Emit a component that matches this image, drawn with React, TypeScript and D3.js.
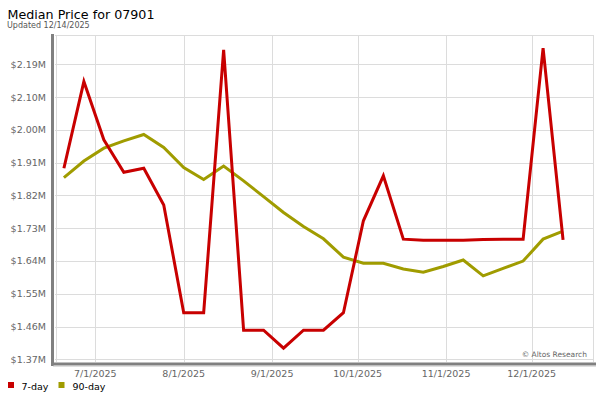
import React from "react";
import * as d3 from "d3";

const dates = [
  "2025-06-20", "2025-06-27", "2025-07-04", "2025-07-11", "2025-07-18", "2025-07-25",
  "2025-08-01", "2025-08-08", "2025-08-15", "2025-08-22", "2025-08-29", "2025-09-05",
  "2025-09-12", "2025-09-19", "2025-09-26", "2025-10-03", "2025-10-10", "2025-10-17",
  "2025-10-24", "2025-10-31", "2025-11-07", "2025-11-14", "2025-11-21", "2025-11-28",
  "2025-12-05", "2025-12-12",
];

const day7 = [
  1.901, 2.142, 1.980, 1.890, 1.901, 1.799, 1.4995, 1.4995, 2.230, 1.451, 1.451, 1.401,
  1.451, 1.451, 1.4995, 1.755, 1.880, 1.704, 1.701, 1.701, 1.701, 1.703, 1.704, 1.704,
  2.235, 1.702,
];

const day90 = [
  1.875, 1.921, 1.957, 1.977, 1.995, 1.959, 1.903, 1.870, 1.907, 1.866, 1.822, 1.778,
  1.739, 1.705, 1.654, 1.637, 1.637, 1.621, 1.612, 1.628, 1.646, 1.602, 1.623, 1.643,
  1.704, 1.726,
];

const yTickLabels = ["$1.37M", "$1.46M", "$1.55M", "$1.64M", "$1.73M", "$1.82M", "$1.91M", "$2.00M", "$2.10M", "$2.19M"];
const xTickDates = ["2025-07-01", "2025-08-01", "2025-09-01", "2025-10-01", "2025-11-01", "2025-12-01"];
const xTickLabels = ["7/1/2025", "8/1/2025", "9/1/2025", "10/1/2025", "11/1/2025", "12/1/2025"];

const seriesNames = ["7-day", "90-day"];
const colors = ["#c80000", "#a09c00"];

const W = 600;
const H = 400;
const plotLeft = 55;
const plotRight = 593;
const plotTop = 35;
const plotBottom = 362;

const parse = (s: string) => new Date(s + "T00:00:00Z");

export default function App() {
  const x = d3
    .scaleUtc()
    .domain([new Date(Date.UTC(2025, 5, 16, 21)), new Date(Date.UTC(2025, 11, 22, 12))])
    .range([plotLeft, plotRight]);
  const yMin = 1.37;
  const yMax = 2.19;
  const y = d3.scaleLinear().domain([yMin, yMax]).range([359.3, 64.3]);
  const yTicks = yTickLabels.map((_, i) => yMin + (i * (yMax - yMin)) / (yTickLabels.length - 1));

  const line = d3
    .line<number>()
    .x((_, i) => x(parse(dates[i])))
    .y((d) => y(d));

  const font = "'DejaVu Sans', Verdana, sans-serif";

  return (
    <svg
      width={W}
      height={H}
      style={{ position: "absolute", left: 0, top: 0, background: "#fff" }}
      fontFamily={font}
    >
      <text x={7.5} y={19} fontSize={12.7} fill="#000">Median Price for 07901</text>
      <text x={7} y={27.5} fontSize={8} fill="#555">Updated 12/14/2025</text>

      {/* grid */}
      <g stroke="#dcdcdc" strokeWidth={1} shapeRendering="crispEdges">
        <line x1={plotLeft} x2={plotRight} y1={plotTop} y2={plotTop} />
        <line x1={plotRight} x2={plotRight} y1={plotTop} y2={plotBottom} />
        <line x1={plotLeft + 1} x2={plotLeft + 1} y1={plotTop} y2={plotBottom} />
        {yTicks.map((t, i) => (
          <line key={i} x1={plotLeft} x2={plotRight} y1={Math.round(y(t)) + 0.5} y2={Math.round(y(t)) + 0.5} />
        ))}
        {xTickDates.map((d, i) => (
          <line key={i} x1={Math.round(x(parse(d))) + 0.5} x2={Math.round(x(parse(d))) + 0.5} y1={plotTop} y2={plotBottom} />
        ))}
      </g>

      {/* axis frame */}
      <rect x={51} y={34} width={3} height={332} fill="#808080" />
      <rect x={52} y={362.5} width={544} height={3} fill="#808080" />
      <rect x={53} y={365.5} width={543} height={1} fill="#c0c0c0" />

      {/* y labels */}
      {yTicks.map((t, i) => (
        <text key={i} x={46} y={y(t) + 3.5} fontSize={9.5} fill="#666" textAnchor="end">
          {yTickLabels[i]}
        </text>
      ))}
      {/* x labels */}
      {xTickDates.map((d, i) => (
        <text key={i} x={x(parse(d))} y={377} fontSize={9.5} fill="#666" textAnchor="middle">
          {xTickLabels[i]}
        </text>
      ))}

      <text x={587} y={357} fontSize={7.5} fill="#666" textAnchor="end">© Altos Research</text>

      {/* lines */}
      <path d={line(day90) || ""} fill="none" stroke={colors[1]} strokeWidth={3} />
      <path d={line(day7) || ""} fill="none" stroke={colors[0]} strokeWidth={3} />

      {/* legend */}
      <rect x={8} y={382} width={6} height={6} fill={colors[0]} />
      <text x={21.5} y={390} fontSize={9.5} fill="#000">{seriesNames[0]}</text>
      <rect x={58.5} y={382} width={6} height={6} fill={colors[1]} />
      <text x={72.5} y={390} fontSize={9.5} fill="#000">{seriesNames[1]}</text>
    </svg>
  );
}
